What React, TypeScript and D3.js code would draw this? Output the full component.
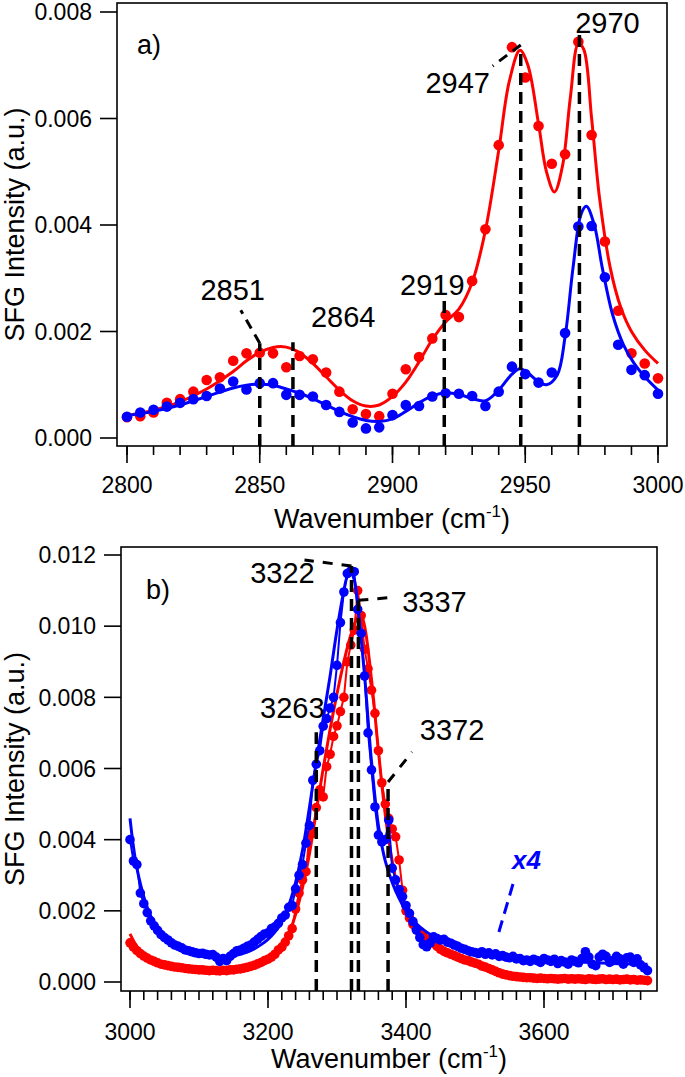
import React from 'react';
import * as d3 from 'd3';

// ---------- Panel a data (C-H region) ----------
const waveA = d3.range(2800, 3001, 5);
const redA = [
  0.00039, 0.00041, 0.00048, 0.00066, 0.00073, 0.00087, 0.00109, 0.00114, 0.00145, 0.00159,
  0.00160, 0.00159, 0.00133, 0.00154, 0.00148, 0.00123, 0.00087, 0.00054, 0.00045, 0.00041,
  0.00083, 0.00129, 0.00152, 0.00187, 0.00231, 0.00227, 0.00295, 0.00392, 0.00550, 0.00734,
  0.00677, 0.00586, 0.00515, 0.00533, 0.00744, 0.00569, 0.00369, 0.00239, 0.00159, 0.00140,
  0.00112,
];
const blueA = [
  0.00040, 0.00048, 0.00053, 0.00059, 0.00066, 0.00073, 0.00079, 0.00093, 0.00106, 0.00091,
  0.00103, 0.00103, 0.00081, 0.00081, 0.00078, 0.00062, 0.00049, 0.00029, 0.00018, 0.00020,
  0.00043, 0.00062, 0.00060, 0.00078, 0.00084, 0.00083, 0.00079, 0.00060, 0.00087, 0.00134,
  0.00120, 0.00104, 0.00123, 0.00197, 0.00397, 0.00398, 0.00302, 0.00175, 0.00128, 0.00118,
  0.00083,
];
const redFitA: [number, number][] = [
  [2800, 0.00042], [2810, 0.00052], [2820, 0.00068], [2830, 0.00092], [2840, 0.00125],
  [2845, 0.00145], [2850, 0.00161], [2855, 0.00170], [2858, 0.00172], [2862, 0.00168],
  [2866, 0.00157], [2870, 0.00140], [2875, 0.00115], [2880, 0.00090], [2885, 0.00070],
  [2890, 0.00060], [2895, 0.00062], [2900, 0.00078], [2905, 0.00105], [2910, 0.00143],
  [2915, 0.00185], [2920, 0.00218], [2925, 0.00242], [2930, 0.00292], [2935, 0.00390],
  [2940, 0.00540], [2944, 0.00670], [2948, 0.00728], [2951, 0.00700], [2955, 0.00590],
  [2958, 0.00500], [2961, 0.00462], [2964, 0.00510], [2967, 0.00640], [2970, 0.00740],
  [2972, 0.00730], [2975, 0.00600], [2978, 0.00450], [2982, 0.00320], [2986, 0.00245],
  [2990, 0.00200], [2995, 0.00165], [3000, 0.00140],
];
const blueFitA: [number, number][] = [
  [2800, 0.00042], [2810, 0.00050], [2820, 0.00062], [2830, 0.00078], [2840, 0.00094],
  [2845, 0.00099], [2850, 0.00101], [2855, 0.00099], [2860, 0.00092], [2865, 0.00084],
  [2870, 0.00074], [2875, 0.00062], [2880, 0.00050], [2885, 0.00040], [2890, 0.00033],
  [2895, 0.00031], [2900, 0.00036], [2905, 0.00050], [2910, 0.00066], [2915, 0.00079],
  [2920, 0.00085], [2925, 0.00082], [2930, 0.00074], [2935, 0.00070], [2940, 0.00090],
  [2945, 0.00120], [2948, 0.00130], [2951, 0.00122], [2955, 0.00106], [2958, 0.00100],
  [2962, 0.00118], [2965, 0.00190], [2968, 0.00320], [2971, 0.00420], [2973, 0.00435],
  [2976, 0.00400], [2979, 0.00320], [2983, 0.00230], [2987, 0.00175], [2991, 0.00140],
  [2995, 0.00115], [3000, 0.00090],
];
const peakWaveA = [2850, 2862.5, 2919.5, 2948.3, 2970.4];
const peakTopA = [0.00178, 0.0018, 0.00265, 0.00725, 0.00762];
const peakLabelA = ['2851', '2864', '2919', '2947', '2970'];
const yTicksA = [0, 0.002, 0.004, 0.006, 0.008];
const yTickLabelsA = ['0.000', '0.002', '0.004', '0.006', '0.008'];
const xMajorA = [2800, 2850, 2900, 2950, 3000];

// ---------- Panel b data (O-H region) ----------
const waveB = d3.range(3000, 3751, 5);
const blueB = [
  0.00400, 0.00340, 0.00330, 0.00250, 0.00220, 0.00195, 0.00172, 0.00158, 0.00145, 0.00133,
  0.00125, 0.00118, 0.00110, 0.00104, 0.00100, 0.00096, 0.00090, 0.00088, 0.00085, 0.00082,
  0.00080, 0.00081, 0.00078, 0.00076, 0.00077, 0.00070, 0.00058, 0.00066, 0.00060, 0.00072,
  0.00080, 0.00088, 0.00090, 0.00095, 0.00100, 0.00104, 0.00112, 0.00120, 0.00128, 0.00135,
  0.00138, 0.00150, 0.00155, 0.00165, 0.00180, 0.00188, 0.00210, 0.00215, 0.00262, 0.00300,
  0.00330, 0.00390, 0.00440, 0.00567, 0.00612, 0.00650, 0.00719, 0.00740, 0.00770, 0.00800,
  0.00890, 0.01010, 0.01096, 0.01148, 0.01155, 0.01153, 0.01047, 0.00980, 0.00860, 0.00700,
  0.00596, 0.00492, 0.00413, 0.00394, 0.00400, 0.00455, 0.00320, 0.00287, 0.00260, 0.00240,
  0.00215, 0.00193, 0.00170, 0.00146, 0.00125, 0.00105, 0.00099, 0.00110, 0.00127, 0.00122,
  0.00118, 0.00120, 0.00112, 0.00109, 0.00104, 0.00100, 0.00095, 0.00092, 0.00088, 0.00085,
  0.00083, 0.00080, 0.00085, 0.00078, 0.00082, 0.00076, 0.00079, 0.00072, 0.00074, 0.00070,
  0.00068, 0.00072, 0.00065, 0.00066, 0.00060, 0.00062, 0.00058, 0.00064, 0.00060, 0.00055,
  0.00066, 0.00062, 0.00058, 0.00064, 0.00052, 0.00060, 0.00056, 0.00050, 0.00062, 0.00058,
  0.00054, 0.00066, 0.00085, 0.00070, 0.00050, 0.00046, 0.00070, 0.00078, 0.00072, 0.00055,
  0.00060, 0.00072, 0.00065, 0.00050, 0.00068, 0.00070, 0.00055, 0.00065, 0.00048, 0.00040,
  0.00032,
];
const redB = [
  0.00110, 0.00098, 0.00088, 0.00080, 0.00073, 0.00067, 0.00062, 0.00058, 0.00054, 0.00050,
  0.00048, 0.00046, 0.00044, 0.00042, 0.00041, 0.00040, 0.00038, 0.00037, 0.00036, 0.00035,
  0.00034, 0.00034, 0.00033, 0.00032, 0.00033, 0.00032, 0.00031, 0.00033, 0.00032, 0.00034,
  0.00034, 0.00036, 0.00037, 0.00039, 0.00041, 0.00044, 0.00047, 0.00051, 0.00055, 0.00060,
  0.00064, 0.00070, 0.00078, 0.00090, 0.00098, 0.00112, 0.00130, 0.00150, 0.00205, 0.00250,
  0.00287, 0.00310, 0.00412, 0.00418, 0.00490, 0.00540, 0.00520, 0.00605, 0.00640, 0.00690,
  0.00720, 0.00760, 0.00800, 0.00900, 0.00947, 0.00989, 0.01100, 0.01030, 0.00935, 0.00880,
  0.00820, 0.00755, 0.00650, 0.00560, 0.00500, 0.00460, 0.00430, 0.00408, 0.00343, 0.00258,
  0.00200, 0.00180, 0.00162, 0.00150, 0.00138, 0.00128, 0.00120, 0.00114, 0.00109, 0.00100,
  0.00092, 0.00086, 0.00082, 0.00078, 0.00074, 0.00070, 0.00066, 0.00062, 0.00060, 0.00056,
  0.00053, 0.00050, 0.00045, 0.00042, 0.00038, 0.00034, 0.00030, 0.00026, 0.00022, 0.00020,
  0.00018, 0.00016, 0.00015, 0.00014, 0.00013, 0.00012, 0.00012, 0.00011, 0.00010, 0.00011,
  0.00010, 0.00009, 0.00010, 0.00009, 0.00008, 0.00009, 0.00010, 0.00008, 0.00009, 0.00008,
  0.00009, 0.00008, 0.00007, 0.00009, 0.00008, 0.00007, 0.00008, 0.00009, 0.00007, 0.00008,
  0.00007, 0.00008, 0.00006, 0.00007, 0.00008, 0.00006, 0.00007, 0.00005, 0.00006, 0.00005,
  0.00004,
];
const blueFitB: [number, number][] = [
  [3000, 0.00460], [3005, 0.00380], [3010, 0.00320], [3020, 0.00240], [3030, 0.00185],
  [3040, 0.00148], [3050, 0.00122], [3060, 0.00104], [3070, 0.00092], [3080, 0.00083],
  [3090, 0.00077], [3100, 0.00073], [3110, 0.00070], [3120, 0.00068], [3130, 0.00068],
  [3140, 0.00070], [3150, 0.00073], [3160, 0.00078], [3170, 0.00084], [3180, 0.00093],
  [3190, 0.00105], [3200, 0.00120], [3210, 0.00140], [3220, 0.00170], [3230, 0.00215],
  [3240, 0.00280], [3250, 0.00370], [3260, 0.00490], [3270, 0.00620], [3280, 0.00740],
  [3290, 0.00860], [3300, 0.00990], [3310, 0.01100], [3315, 0.01140], [3320, 0.01150],
  [3325, 0.01130], [3330, 0.01060], [3340, 0.00860], [3350, 0.00620], [3360, 0.00440],
  [3370, 0.00340], [3380, 0.00280], [3390, 0.00235], [3400, 0.00200], [3410, 0.00175],
  [3420, 0.00155], [3440, 0.00128], [3460, 0.00110], [3480, 0.00097], [3500, 0.00088],
  [3530, 0.00078], [3560, 0.00070], [3600, 0.00062], [3650, 0.00056], [3700, 0.00052],
  [3750, 0.00050],
];
const redFitB: [number, number][] = [
  [3000, 0.00135], [3010, 0.00100], [3020, 0.00080], [3030, 0.00066], [3040, 0.00056],
  [3050, 0.00049], [3060, 0.00044], [3080, 0.00038], [3100, 0.00035], [3120, 0.00034],
  [3140, 0.00035], [3160, 0.00038], [3180, 0.00045], [3190, 0.00052], [3200, 0.00062],
  [3210, 0.00078], [3220, 0.00100], [3230, 0.00135], [3240, 0.00190], [3250, 0.00265],
  [3260, 0.00360], [3270, 0.00480], [3280, 0.00600], [3290, 0.00710], [3300, 0.00810],
  [3310, 0.00900], [3320, 0.00975], [3330, 0.01025], [3335, 0.01030], [3340, 0.01000],
  [3350, 0.00850], [3360, 0.00650], [3370, 0.00470], [3380, 0.00340], [3390, 0.00250],
  [3400, 0.00190], [3410, 0.00155], [3420, 0.00130], [3440, 0.00100], [3460, 0.00080],
  [3480, 0.00064], [3500, 0.00052], [3520, 0.00040], [3540, 0.00030], [3560, 0.00022],
  [3600, 0.00015], [3650, 0.00012], [3700, 0.00010], [3750, 0.00009],
];
const peakWaveB = [3270, 3321, 3331, 3374];
const peakTopB = [0.00702, 0.01169, 0.01073, 0.00562];
const peakLabelB = ['3263', '3322', '3337', '3372'];
const yTicksB = [0, 0.002, 0.004, 0.006, 0.008, 0.010, 0.012];
const yTickLabelsB = ['0.000', '0.002', '0.004', '0.006', '0.008', '0.010', '0.012'];
const xMajorB = [3000, 3200, 3400, 3600];

const RED = '#ff0000';
const BLUE = '#0000ff';
const FONT = '"Liberation Sans", Arial, sans-serif';

type Scale = d3.ScaleLinear<number, number>;

function Frame({ box }: { box: { l: number; r: number; t: number; b: number } }) {
  return (
    <rect x={box.l} y={box.t} width={box.r - box.l} height={box.b - box.t}
      fill="none" stroke="#000" strokeWidth={1.6} />
  );
}

function XAxis({ x, y0, minor, major, labelY, titleY, cx }: {
  x: Scale; y0: number; minor: number[]; major: number[]; labelY: number; titleY: number; cx: number;
}) {
  return (
    <g>
      {minor.map((v) => (
        <line key={'m' + v} x1={x(v)} x2={x(v)} y1={y0} y2={y0 + 9} stroke="#000" strokeWidth={1.6} />
      ))}
      {major.map((v) => (
        <g key={'M' + v}>
          <line x1={x(v)} x2={x(v)} y1={y0} y2={y0 + 17} stroke="#000" strokeWidth={1.6} />
          <text x={x(v)} y={labelY} textAnchor="middle" fontSize={23} fontFamily={FONT}>{v}</text>
        </g>
      ))}
      <text x={cx} y={titleY} textAnchor="middle" fontSize={27} fontFamily={FONT}>
        Wavenumber (cm<tspan dy={-11} fontSize={17}>-1</tspan><tspan dy={11}>)</tspan>
      </text>
    </g>
  );
}

function YAxis({ y, xl, ticks, labels, cy }: {
  y: Scale; xl: number; ticks: number[]; labels: string[]; cy: number;
}) {
  return (
    <g>
      {ticks.map((v, i) => (
        <g key={v}>
          <line x1={xl - 17} x2={xl} y1={y(v)} y2={y(v)} stroke="#000" strokeWidth={1.6} />
          <text x={xl - 25} y={y(v)} dy="0.36em" textAnchor="end" fontSize={23} fontFamily={FONT}>{labels[i]}</text>
        </g>
      ))}
      <text transform={`translate(24,${cy}) rotate(-90)`} textAnchor="middle" fontSize={27} fontFamily={FONT}>
        SFG Intensity (a.u.)
      </text>
    </g>
  );
}

function Series({ x, y, waves, vals, fit, color, r, connect }: {
  x: Scale; y: Scale; waves: number[]; vals: number[]; fit: [number, number][]; color: string; r: number; connect?: boolean;
}) {
  const line = d3.line<[number, number]>()
    .x((d) => x(d[0]))
    .y((d) => y(d[1]))
    .curve(d3.curveCatmullRom.alpha(0.5));
  const raw = d3.line<number>()
    .x((_, i) => x(waves[i]))
    .y((d) => y(d));
  return (
    <g>
      <path d={line(fit) || ''} fill="none" stroke={color} strokeWidth={3} />
      {connect && <path d={raw(vals) || ''} fill="none" stroke={color} strokeWidth={2} />}
      {vals.map((v, i) => (
        <circle key={i} cx={x(waves[i])} cy={y(v)} r={r} fill={color} />
      ))}
    </g>
  );
}

export default function App() {
  // Panel a
  const boxA = { l: 117, r: 667, t: 3, b: 446 };
  const xA = d3.scaleLinear().domain([2800, 3000]).range([127, 658]);
  const yA = d3.scaleLinear().domain([0, 0.008]).range([438, 12]);
  const minorA = d3.range(2800, 3001, 10);

  // Panel b
  const boxB = { l: 121, r: 657, t: 547, b: 991 };
  const xB = d3.scaleLinear().domain([3000, 3750]).range([130, 647.5]);
  const yB = d3.scaleLinear().domain([0, 0.012]).range([982, 555]);
  const minorB = d3.range(3000, 3741, 20);

  const dash = '12,7';

  // label offsets relative to top of each peak line (layout only)
  const labA = [
    { dx: -27, dy: -43, lead: [-19, -33] },
    { dx: 18, dy: -15, anchor: 'start' },
    { dx: -12, dy: -2 },
    { dx: -63, dy: 41, lead: [-28, 14], leadStart: [0, -7] },
    { dx: 28, dy: 1 },
  ];
  const labB = [
    { dx: -24, dy: -14 },
    { dx: -69, dy: 17, lead: [-47, -6] },
    { dx: 76, dy: 12, lead: [37, -3] },
    { dx: 64, dy: -42, lead: [24, -30] },
  ];

  return (
    <svg width={685} height={1077} style={{ position: 'absolute', left: 0, top: 0, background: '#fff' }}>
      {/* ---------- Panel a ---------- */}
      <Frame box={boxA} />
      <XAxis x={xA} y0={boxA.b} minor={minorA} major={xMajorA} labelY={493} titleY={528} cx={(boxA.l + boxA.r) / 2} />
      <YAxis y={yA} xl={boxA.l} ticks={yTicksA} labels={yTickLabelsA} cy={(boxA.t + boxA.b) / 2} />
      <text x={137} y={54} fontSize={27} fontFamily={FONT}>a)</text>
      <Series x={xA} y={yA} waves={waveA} vals={redA} fit={redFitA} color={RED} r={5.3} />
      <Series x={xA} y={yA} waves={waveA} vals={blueA} fit={blueFitA} color={BLUE} r={5.3} />
      {peakWaveA.map((w, i) => {
        const px = xA(w);
        const py = yA(peakTopA[i]);
        const o: any = labA[i];
        const ls = o.leadStart || [0, 0];
        return (
          <g key={w}>
            <line x1={px} x2={px} y1={boxA.b} y2={py} stroke="#000" strokeWidth={3.5} strokeDasharray={dash} />
            {o.lead && (
              <line x1={px + ls[0]} y1={py + ls[1]} x2={px + o.lead[0]} y2={py + o.lead[1]}
                stroke="#000" strokeWidth={3} strokeDasharray="10,7" />
            )}
            <text x={px + o.dx} y={py + o.dy} textAnchor={o.anchor || 'middle'} fontSize={29} fontFamily={FONT}>
              {peakLabelA[i]}
            </text>
          </g>
        );
      })}

      {/* ---------- Panel b ---------- */}
      <Frame box={boxB} />
      <XAxis x={xB} y0={boxB.b} minor={minorB} major={xMajorB} labelY={1040} titleY={1068} cx={(boxB.l + boxB.r) / 2} />
      <YAxis y={yB} xl={boxB.l} ticks={yTicksB} labels={yTickLabelsB} cy={(boxB.t + boxB.b) / 2} />
      <text x={146} y={599} fontSize={27} fontFamily={FONT}>b)</text>
      <Series x={xB} y={yB} waves={waveB} vals={redB} fit={redFitB} color={RED} r={4.8} connect />
      <Series x={xB} y={yB} waves={waveB} vals={blueB} fit={blueFitB} color={BLUE} r={4.8} connect />
      {peakWaveB.map((w, i) => {
        const px = xB(w);
        const py = yB(peakTopB[i]);
        const o: any = labB[i];
        return (
          <g key={w}>
            <line x1={px} x2={px} y1={boxB.b} y2={py} stroke="#000" strokeWidth={3.5} strokeDasharray={dash} />
            {o.lead && (
              <line x1={px} y1={py} x2={px + o.lead[0]} y2={py + o.lead[1]}
                stroke="#000" strokeWidth={3} strokeDasharray="10,9" />
            )}
            <text x={px + o.dx} y={py + o.dy} textAnchor="middle" fontSize={29} fontFamily={FONT}>
              {peakLabelB[i]}
            </text>
          </g>
        );
      })}
      <text x={512} y={869} fontSize={26} fontWeight="bold" fontStyle="italic" fill={BLUE} fontFamily={FONT}>x4</text>
      <line x1={513} y1={884} x2={498} y2={935} stroke={BLUE} strokeWidth={3} strokeDasharray="12,7" />
    </svg>
  );
}
